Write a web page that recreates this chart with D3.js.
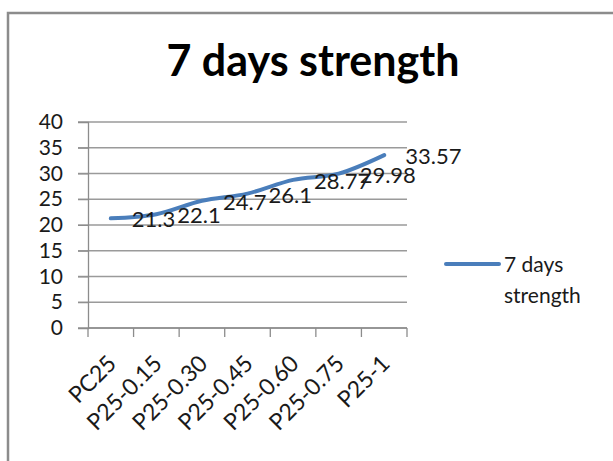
<!DOCTYPE html>
<html>
<head>
<meta charset="utf-8">
<script src="https://cdn.jsdelivr.net/npm/d3@7"></script>
<style>
  body { margin: 0; background: #fff; }
  text { font-family: Lato, "Open Sans", sans-serif; fill: #1a1a1a; }
</style>
</head>
<body>
<div class="chart"></div>
<script>
let categories = ['PC25', 'P25-0.15', 'P25-0.30', 'P25-0.45', 'P25-0.60', 'P25-0.75', 'P25-1'];
let strength = [21.3, 22.1, 24.7, 26.1, 28.77, 29.98, 33.57];
let yTicks = [0, 5, 10, 15, 20, 25, 30, 35, 40];
let seriesName = '7 days strength';

let margin = { top: 122, right: 206, bottom: 133, left: 88 };
let width = 613 - margin.left - margin.right;
let height = 461 - margin.top - margin.bottom;

let root = d3.select('.chart')
  .append('svg')
    .attr('width', 613)
    .attr('height', 461);

// outer frame, runs off the right and bottom edges
root.append('rect')
  .attr('x', 8)
  .attr('y', 13)
  .attr('width', 640)
  .attr('height', 480)
  .style('fill', 'none')
  .style('stroke', '#8c8c8c')
  .style('stroke-width', 2.5);

root.append('text')
  .attr('x', 313)
  .attr('y', 76)
  .attr('text-anchor', 'middle')
  .style('font-size', '43px')
  .style('font-weight', 'bold')
  .style('fill', '#000')
  .text('7 days strength');

let svg = root.append('g')
  .attr('transform', `translate(${margin.left}, ${margin.top})`);

let xScale = d3.scaleBand()
  .domain(categories)
  .range([0, width]);

let yScale = d3.scaleLinear()
  .domain([0, 40])
  .range([height, 0]);

// gridlines
svg.append('g')
  .selectAll('line')
  .data(yTicks)
  .join('line')
    .attr('x1', -10)
    .attr('x2', width)
    .attr('y1', d => yScale(d))
    .attr('y2', d => yScale(d))
    .style('stroke', '#9a9a9a')
    .style('stroke-width', 1.3);

let yAxis = d3.axisLeft(yScale)
  .tickValues(yTicks)
  .tickSize(10)
  .tickPadding(15);

let gy = svg.append('g').call(yAxis);
gy.select('.domain').style('stroke', '#8c8c8c').style('stroke-width', 1.3);
gy.selectAll('.tick line').style('stroke', '#8c8c8c');
gy.selectAll('.tick text')
  .style('font-size', '21px')
  .style('font-family', 'Lato, sans-serif')
  .style('fill', '#1a1a1a');

// x axis: ticks sit on the band edges
let gx = svg.append('g')
  .attr('transform', `translate(0, ${height})`);

gx.append('line')
  .attr('x1', 0)
  .attr('x2', width)
  .style('stroke', '#8c8c8c')
  .style('stroke-width', 1.3);

let edges = categories.map(c => xScale(c)).concat([width]);
gx.selectAll('.edge')
  .data(edges)
  .join('line')
    .attr('class', 'edge')
    .attr('x1', d => d)
    .attr('x2', d => d)
    .attr('y1', 0)
    .attr('y2', 9)
    .style('stroke', '#8c8c8c')
    .style('stroke-width', 1.3);

gx.selectAll('.lbl')
  .data(categories)
  .join('text')
    .attr('class', 'lbl')
    .attr('text-anchor', 'end')
    .attr('transform', d => `translate(${xScale(d) + xScale.bandwidth() / 2 + 7}, 37) rotate(-45)`)
    .style('font-size', '23px')
    .text(d => d);

let cx = d => xScale(d) + xScale.bandwidth() / 2;

let line = d3.line()
  .x((d, i) => cx(categories[i]))
  .y(d => yScale(d))
  .curve(d3.curveCatmullRom.alpha(0));

svg.append('path')
  .datum(strength)
  .attr('d', line)
  .style('fill', 'none')
  .style('stroke', '#4a7ebb')
  .style('stroke-width', 4)
  .style('stroke-linecap', 'round');

svg.selectAll('.val')
  .data(strength)
  .join('text')
    .attr('class', 'val')
    .attr('x', (d, i) => cx(categories[i]) + 21)
    .attr('y', d => yScale(d) + 9)
    .style('font-size', '22px')
    .text(d => d);

// legend
let legend = root.append('g');
legend.append('line')
  .attr('x1', 446)
  .attr('x2', 499)
  .attr('y1', 264)
  .attr('y2', 264)
  .style('stroke', '#4a7ebb')
  .style('stroke-width', 4)
  .style('stroke-linecap', 'round');

legend.append('text')
  .attr('x', 504)
  .attr('y', 272)
  .style('font-size', '21px')
  .text('7 days');

legend.append('text')
  .attr('x', 504)
  .attr('y', 303)
  .style('font-size', '21px')
  .text('strength');
</script>
</body>
</html>
